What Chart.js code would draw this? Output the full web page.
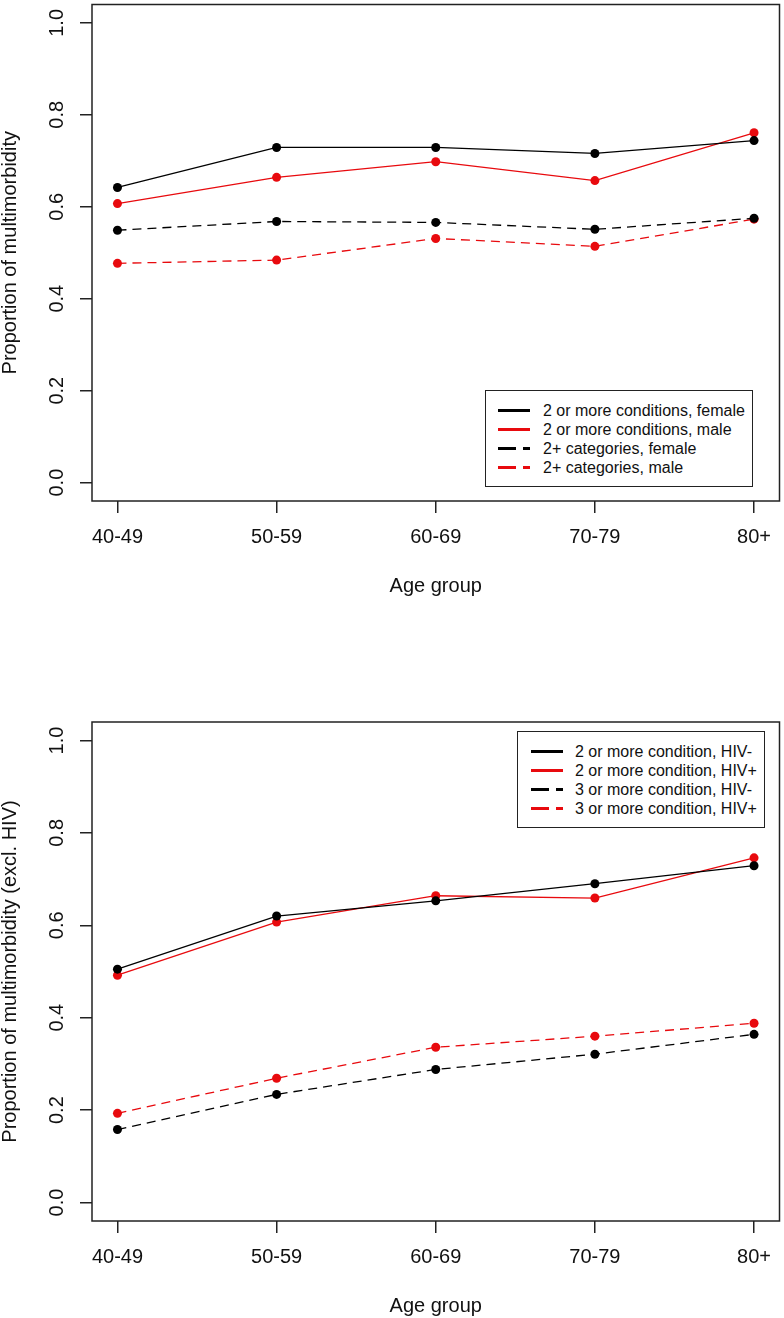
<!DOCTYPE html>
<html>
<head>
<meta charset="utf-8">
<script src="https://cdn.jsdelivr.net/npm/chart.js@4.4.1/dist/chart.umd.min.js"></script>
<style>
  body { margin: 0; background: #fff; }
  .panel { position: relative; width: 784px; height: 659px; }
  .legend {
    position: absolute; border: 1.5px solid #222; background: #fff;
    font-family: "Liberation Sans", Arial, sans-serif; font-size: 16px; color: #111;
    box-sizing: border-box;
  }
  .legend .row { position: absolute; left: 0; height: 19px; line-height: 19px; white-space: nowrap; }
  .legend svg { position: absolute; top: 0; }
  .legend span { position: absolute; top: 0; }
</style>
</head>
<body>
<div class="panel" id="p1"><canvas id="c1" width="784" height="659"></canvas></div>
<div class="panel" id="p2"><canvas id="c2" width="784" height="659"></canvas></div>
<script>
const ageGroups = ['40-49', '50-59', '60-69', '70-79', '80+'];
const yTicks = [0, 0.2, 0.4, 0.6, 0.8, 1.0];

// top panel: by sex
const sexLabels = ['2 or more conditions, female', '2 or more conditions, male', '2+ categories, female', '2+ categories, male'];
const condFemale = [0.642, 0.729, 0.729, 0.716, 0.744];
const condMale   = [0.607, 0.664, 0.698, 0.657, 0.761];
const catFemale  = [0.549, 0.568, 0.566, 0.551, 0.575];
const catMale    = [0.477, 0.484, 0.531, 0.514, 0.573];

// bottom panel: by HIV status
const hivLabels = ['2 or more condition, HIV-', '2 or more condition, HIV+', '3 or more condition, HIV-', '3 or more condition, HIV+'];
const twoHivNeg   = [0.505, 0.620, 0.653, 0.690, 0.729];
const twoHivPos   = [0.492, 0.607, 0.664, 0.659, 0.746];
const threeHivNeg = [0.158, 0.234, 0.288, 0.321, 0.364];
const threeHivPos = [0.193, 0.269, 0.336, 0.360, 0.388];

const BLACK = '#000';
const RED = 'rgb(232,10,14)';
const FONT = '"Liberation Sans", Arial, sans-serif';
const styles = [
  { color: BLACK, dash: [] },
  { color: RED, dash: [] },
  { color: BLACK, dash: [9, 6] },
  { color: RED, dash: [9, 6] }
];

const boxPlugin = {
  id: 'box',
  afterDraw(chart) {
    const { ctx, chartArea: a } = chart;
    ctx.save();
    ctx.strokeStyle = '#222';
    ctx.lineWidth = 1.5;
    ctx.strokeRect(a.left, a.top, a.right - a.left, a.bottom - a.top);
    ctx.restore();
  }
};

function makeChart(id, labels, series, yTitle, padTop, padBottom) {
  const datasets = series.map((vals, i) => ({
    label: labels[i],
    data: vals.map((v, j) => ({ x: j + 1, y: v })),
    borderColor: styles[i].color,
    backgroundColor: styles[i].color,
    borderDash: styles[i].dash,
    borderWidth: 1.3,
    pointRadius: 4.5,
    pointBorderWidth: 0,
    pointBackgroundColor: styles[i].color,
    tension: 0
  }));

  return new Chart(document.getElementById(id).getContext('2d'), {
    type: 'line',
    data: { datasets },
    plugins: [boxPlugin],
    options: {
      responsive: false,
      animation: false,
      layout: { padding: { top: padTop, bottom: padBottom, left: 0, right: 1 } },
      plugins: { legend: { display: false }, tooltip: { enabled: false } },
      scales: {
        x: {
          type: 'linear',
          min: 0.84,
          max: 5.16,
          afterBuildTicks: s => { s.ticks = ageGroups.map((g, i) => ({ value: i + 1 })); },
          afterFit: s => { s.height = 97; s.paddingLeft = 0; s.paddingRight = 0; },
          ticks: {
            autoSkip: false,
            maxRotation: 0,
            padding: 12,
            color: '#111',
            font: { family: FONT, size: 20 },
            callback: v => ageGroups[v - 1]
          },
          grid: { drawOnChartArea: false, drawTicks: true, tickLength: 12, color: '#222', lineWidth: 1.5 },
          border: { display: false },
          title: { display: true, text: 'Age group', color: '#111', font: { family: FONT, size: 20 }, padding: 0 }
        },
        y: {
          min: -0.04,
          max: 1.04,
          afterBuildTicks: s => { s.ticks = yTicks.map(v => ({ value: v })); },
          afterFit: s => { s.width = 92; s.paddingTop = 0; s.paddingBottom = 0; },
          ticks: {
            autoSkip: false,
            minRotation: 90,
            maxRotation: 90,
            crossAlign: 'center',
            padding: 9,
            color: '#111',
            font: { family: FONT, size: 20 },
            callback: v => v.toFixed(1)
          },
          grid: { drawOnChartArea: false, drawTicks: true, tickLength: 12, color: '#222', lineWidth: 1.5 },
          border: { display: false },
          title: { display: true, text: yTitle, color: '#111', font: { family: FONT, size: 20, lineHeight: 1 }, padding: 0 }
        }
      }
    }
  });
}

function makeLegend(panelId, labels, box) {
  const el = document.createElement('div');
  el.className = 'legend';
  el.style.left = box.left + 'px';
  el.style.top = box.top + 'px';
  el.style.width = box.width + 'px';
  el.style.height = box.height + 'px';
  labels.forEach((lab, i) => {
    const row = document.createElement('div');
    row.className = 'row';
    row.style.top = (box.firstRow + i * 19.3 - 9.5) + 'px';
    const dash = styles[i].dash.length ? 'stroke-dasharray="18 7"' : '';
    row.innerHTML =
      '<svg width="32" height="19" style="left:' + box.sampleX + 'px">' +
      '<line x1="0" y1="9.5" x2="32" y2="9.5" stroke="' + styles[i].color + '" stroke-width="3" ' + dash + '/></svg>' +
      '<span style="left:' + box.textX + 'px">' + lab + '</span>';
    el.appendChild(row);
  });
  document.getElementById(panelId).appendChild(el);
}

makeChart('c1', sexLabels, [condFemale, condMale, catFemale, catMale], 'Proportion of multimorbidity', 2, 61);
makeChart('c2', hivLabels, [twoHivNeg, twoHivPos, threeHivNeg, threeHivPos], 'Proportion of multimorbidity (excl. HIV)', 63, 0);

makeLegend('p1', sexLabels, { left: 485, top: 390, width: 268, height: 97, firstRow: 19, sampleX: 12, textX: 57 });
makeLegend('p2', hivLabels, { left: 517, top: 72, width: 248, height: 97, firstRow: 19, sampleX: 13, textX: 57 });
</script>
</body>
</html>
